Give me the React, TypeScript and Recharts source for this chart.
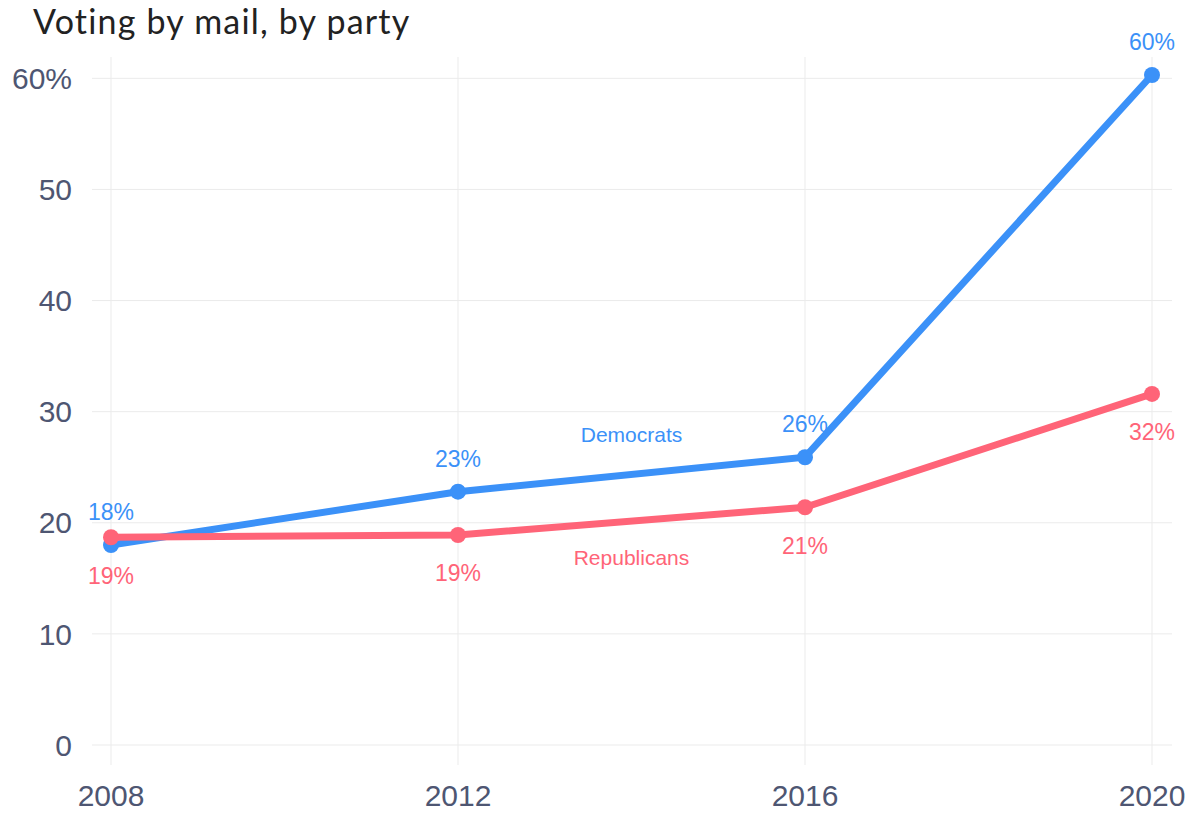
import React from 'react'
import {
  LineChart,
  Line,
  XAxis,
  YAxis,
  CartesianGrid,
  LabelList,
  ReferenceDot,
} from 'recharts'

const years = [2008, 2012, 2016, 2020]
const democrats = [18, 22.8, 25.9, 60.3]
const republicans = [18.7, 18.9, 21.4, 31.6]
const yTicks = [0, 10, 20, 30, 40, 50, 60]

const data = years.map((year, i) => ({
  year,
  dem: democrats[i],
  rep: republicans[i],
}))

const BLUE = '#3b91f8'
const RED = '#ff6478'
const AXIS_TEXT = '#4e5672'
const FONT = '"Liberation Sans", Arial, sans-serif'

const pct = (v: any) => `${Math.round(Number(v))}%`

export default function App() {
  return (
    <div style={{ position: 'absolute', left: 0, top: 0, width: 1196, height: 817, background: '#fff' }}>
      <div
        style={{
          position: 'absolute',
          left: 33,
          top: 0,
          fontFamily: 'Lato, "Open Sans", sans-serif',
          fontSize: 34,
          color: '#222',
          letterSpacing: 1.2,
        }}
      >
        Voting by mail, by party
      </div>
      <LineChart
        width={1196}
        height={817}
        data={data}
        margin={{ top: 57, right: 24, bottom: 0, left: 12 }}
      >
        <CartesianGrid stroke="#ebebeb" syncWithTicks />
        <XAxis
          dataKey="year"
          type="number"
          domain={[2008, 2020]}
          ticks={years}
          padding={{ left: 19, right: 20 }}
          axisLine={false}
          tickLine={false}
          tickSize={0}
          tickMargin={20}
          height={52}
          tick={{ fill: AXIS_TEXT, fontSize: 30, fontFamily: FONT }}
        />
        <YAxis
          domain={[0, 60]}
          ticks={yTicks}
          padding={{ top: 18, bottom: 20 }}
          axisLine={false}
          tickLine={false}
          tickSize={0}
          tickMargin={20}
          width={80}
          tickFormatter={(v: number) => (v === 60 ? '60%' : String(v))}
          tick={{ fill: AXIS_TEXT, fontSize: 30, fontFamily: FONT }}
        />
        <Line
          dataKey="dem"
          stroke={BLUE}
          strokeWidth={7}
          dot={{ r: 8, fill: BLUE, stroke: BLUE, strokeWidth: 0 }}
          activeDot={false}
          isAnimationActive={false}
        >
          <LabelList
            dataKey="dem"
            position="top"
            offset={25}
            formatter={pct}
            style={{ fill: BLUE, fontSize: 23, fontFamily: FONT }}
          />
        </Line>
        <Line
          dataKey="rep"
          stroke={RED}
          strokeWidth={7}
          dot={{ r: 8, fill: RED, stroke: RED, strokeWidth: 0 }}
          activeDot={false}
          isAnimationActive={false}
        >
          <LabelList
            dataKey="rep"
            position="bottom"
            offset={30}
            formatter={pct}
            style={{ fill: RED, fontSize: 23, fontFamily: FONT }}
          />
        </Line>
        <ReferenceDot
          x={2014}
          y={27.9}
          r={0}
          fill="none"
          stroke="none"
          label={{ value: 'Democrats', position: 'center', fill: BLUE, fontSize: 21, fontFamily: FONT }}
        />
        <ReferenceDot
          x={2014}
          y={16.9}
          r={0}
          fill="none"
          stroke="none"
          label={{ value: 'Republicans', position: 'center', fill: RED, fontSize: 21, fontFamily: FONT }}
        />
      </LineChart>
    </div>
  )
}
